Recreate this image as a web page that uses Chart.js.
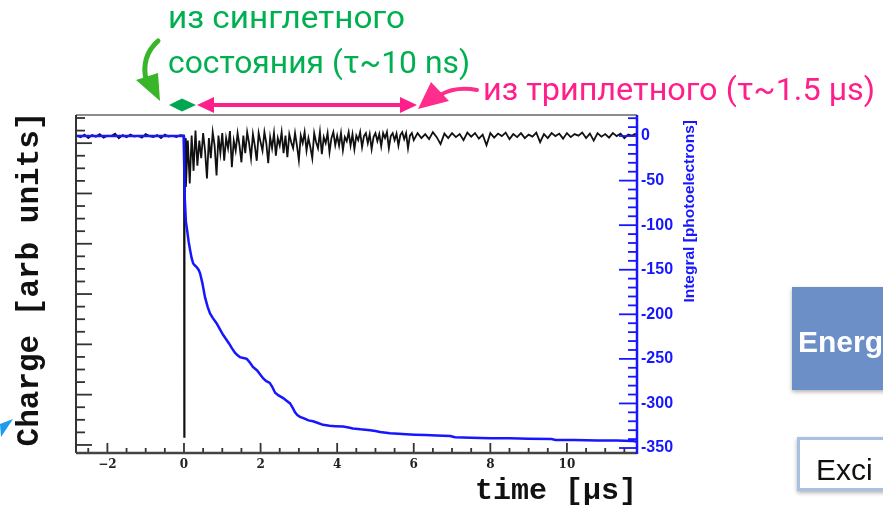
<!DOCTYPE html>
<html>
<head>
<meta charset="utf-8">
<script src="https://cdn.jsdelivr.net/npm/chart.js@4.4.1/dist/chart.umd.min.js"></script>
<style>
  html, body { margin: 0; padding: 0; background: #fff; overflow: hidden; }
  canvas { display: block; }
</style>
</head>
<body>
<canvas id="pulseChart" width="883" height="509"></canvas>
<script>
// integral of the pulse, photoelectrons (right axis)
const integralTime = [-2.82, -0.01, 0, 0.02, 0.05, 0.08, 0.12, 0.16, 0.2, 0.24, 0.28, 0.33, 0.38, 0.42, 0.48, 0.55,
  0.62, 0.68, 0.75, 0.85, 0.93, 1.02, 1.1, 1.18, 1.25, 1.33, 1.4, 1.46, 1.55, 1.64, 1.72, 1.8, 1.91, 2.0, 2.07, 2.15,
  2.24, 2.3, 2.38, 2.47, 2.59, 2.68, 2.77, 2.84, 2.9, 2.96, 3.03, 3.15, 3.25, 3.37, 3.5, 3.63, 3.8, 3.95, 4.15, 4.3,
  4.41, 4.61, 4.86, 5.0, 5.12, 5.38, 5.6, 5.8, 6.03, 6.3, 6.6, 6.95, 7.08, 7.5, 8.0, 8.5, 9.0, 9.6, 9.7, 10.2, 10.8,
  11.3, 11.7, 11.83];
const integralValue = [0, 0, -20, -70, -96, -105, -118, -128, -137, -143, -145, -147, -150, -154, -165, -181,
  -192, -199, -204, -210, -216, -223, -228, -233, -238, -243, -246, -248, -249, -250, -254, -259, -263, -268, -272, -275,
  -277, -281, -288, -291, -294, -297, -300, -305, -310, -313, -315, -317, -319, -320, -322, -324, -325, -325.5, -326, -327,
  -328, -329, -330, -331, -332, -333.5, -334, -334.5, -335, -335.5, -336, -336.5, -338, -338.5, -339, -339, -339.5, -340, -341, -341, -341.5,
  -341.5, -342, -343];

// raw charge waveform, arb units (left axis)
const chargeTime = [-2.82, -2.8, -2.7, -2.6, -2.5, -2.4, -2.3, -2.2, -2.1, -2.0, -1.9, -1.8, -1.7, -1.6, -1.5, -1.4,
  -1.3, -1.2, -1.1, -1.0, -0.9, -0.8, -0.7, -0.6, -0.5, -0.4, -0.3, -0.2, -0.1,
  0, 0.005, 0.015, 0.03,
  0.05, 0.1, 0.15, 0.2, 0.25, 0.3, 0.35, 0.4, 0.45, 0.5, 0.55, 0.6, 0.65, 0.7, 0.75, 0.8, 0.85, 0.9, 0.95, 1.0,
  1.05, 1.1, 1.15, 1.2, 1.25, 1.3, 1.35, 1.4, 1.45, 1.5, 1.55, 1.6, 1.65, 1.7, 1.75, 1.8, 1.85, 1.9, 1.95, 2.0,
  2.05, 2.1, 2.15, 2.2, 2.25, 2.3, 2.35, 2.4, 2.45, 2.5, 2.55, 2.6, 2.65, 2.7, 2.75, 2.8, 2.85, 2.9, 2.95, 3.0,
  3.05, 3.1, 3.15, 3.2, 3.25, 3.3, 3.35, 3.4, 3.45, 3.5, 3.55, 3.6, 3.65, 3.7, 3.75, 3.8, 3.85, 3.9, 3.95, 4.0,
  4.05, 4.1, 4.15, 4.2, 4.25, 4.3, 4.35, 4.4, 4.45, 4.5, 4.55, 4.6, 4.65, 4.7, 4.75, 4.8, 4.85, 4.9, 4.95, 5.0,
  5.05, 5.1, 5.15, 5.2, 5.25, 5.3, 5.35, 5.4, 5.45, 5.5, 5.55, 5.6, 5.65, 5.7, 5.75, 5.8, 5.85, 5.9, 5.95, 6.0,
  6.1, 6.2, 6.3, 6.4, 6.5, 6.6, 6.7, 6.8, 6.9, 7.0, 7.1, 7.2, 7.3, 7.4, 7.5, 7.6, 7.7, 7.8, 7.9, 8.0,
  8.1, 8.2, 8.3, 8.4, 8.5, 8.6, 8.7, 8.8, 8.9, 9.0, 9.1, 9.2, 9.3, 9.4, 9.5, 9.6, 9.7, 9.8, 9.9, 10.0,
  10.1, 10.2, 10.3, 10.4, 10.5, 10.6, 10.7, 10.8, 10.9, 11.0, 11.1, 11.2, 11.3, 11.4, 11.5, 11.6, 11.7, 11.8];
const chargeValue = [0.14, 0.15, 0.12, 0.17, 0.1, 0.16, 0.13, 0.18, 0.11, 0.15, 0.14, 0.19, 0.1, 0.16, 0.12, 0.17,
  0.13, 0.15, 0.11, 0.18, 0.14, 0.12, 0.16, 0.1, 0.17, 0.13, 0.15, 0.12, 0.16,
  0.15, -5.84, -1.4, 0.1,
  -0.87, 0.05, -0.8, 0.15, -0.55, 0.25, -0.45, 0.05, -0.3, 0.2, -0.15, -0.7, 0.1, -0.3, 0.22, -0.05, -0.64, 0.15, -0.2, 0.2,
  -0.35, 0.1, -0.1, 0.24, -0.48, 0.05, -0.15, 0.2, -0.05, -0.38, 0.15, -0.2, 0.22, 0.0, -0.3, 0.18, -0.05, -0.35, 0.2, 0.02,
  -0.15, 0.22, 0.0, -0.4, 0.12, -0.1, 0.2, -0.25, 0.1, -0.05, 0.22, -0.2, 0.15, -0.28, 0.18, 0.02, -0.1, 0.2, -0.05, -0.34,
  0.15, 0.0, 0.22, -0.15, 0.1, -0.08, -0.3, 0.2, 0.02, -0.1, 0.22, -0.22, 0.12, 0.0, 0.2, -0.18, 0.1, 0.22, -0.04, 0.15,
  -0.05, 0.2, -0.14, 0.12, 0.04, 0.22, -0.05, 0.18, -0.12, 0.15, 0.06, 0.22, -0.08, 0.14, 0.2, 0.0, 0.18, -0.12, 0.12, 0.2,
  0.04, 0.18, -0.06, 0.2, 0.1, 0.22, -0.1, 0.14, 0.2, 0.06, 0.19, -0.05, 0.16, 0.22, 0.08, 0.2, -0.1, 0.15, 0.2, 0.06,
  0.2, 0.1, 0.18, 0.08, 0.22, 0.12, -0.02, 0.19, 0.1, 0.2, 0.12, 0.18, 0.06, 0.21, 0.13, 0.2, 0.09, 0.17, -0.04, 0.2,
  0.11, 0.19, 0.14, 0.21, 0.08, 0.18, 0.12, 0.2, 0.1, 0.17, 0.13, 0.21, 0.02, 0.18, 0.1, 0.2, 0.14, 0.19, 0.09, 0.2,
  0.12, 0.18, 0.15, 0.21, 0.1, 0.19, 0.05, 0.2, 0.13, 0.18, 0.11, 0.2, 0.14, 0.19, 0.1, 0.17, 0.15, 0.19];

const xTicks = [-2, 0, 2, 4, 6, 8, 10];
const integralTicks = [0, -50, -100, -150, -200, -250, -300, -350];

const BLUE = '#1616ff';

function tickValues(min, max, step) {
  const out = [];
  for (let k = Math.ceil(min / step - 1e-9); k * step <= max + 1e-9; k++) out.push(k * step);
  return out;
}
function isMult(v, step) {
  return Math.abs(v / step - Math.round(v / step)) < 1e-6;
}
function line(ctx, x1, y1, x2, y2) {
  ctx.beginPath(); ctx.moveTo(x1, y1); ctx.lineTo(x2, y2); ctx.stroke();
}
function fitText(ctx, text, x, y, width, font, color) {
  ctx.save();
  ctx.font = font;
  ctx.fillStyle = color;
  ctx.textBaseline = 'alphabetic';
  ctx.textAlign = 'left';
  const w = ctx.measureText(text).width;
  ctx.translate(x, y);
  ctx.scale(width / w, 1);
  ctx.fillText(text, 0, 0);
  ctx.restore();
}
function poly(ctx, pts, color) {
  ctx.fillStyle = color;
  ctx.beginPath();
  ctx.moveTo(pts[0][0], pts[0][1]);
  pts.slice(1).forEach(p => ctx.lineTo(p[0], p[1]));
  ctx.closePath();
  ctx.fill();
}

const decor = {
  id: 'decor',
  afterDatasetsDraw(chart) {
    const { ctx, chartArea: a, scales } = chart;
    ctx.save();
    // ROOT style inner ticks
    ctx.lineWidth = 1.8;
    ctx.strokeStyle = '#333';
    tickValues(scales.x.min, scales.x.max, 0.5).forEach(v => {
      const px = scales.x.getPixelForValue(v);
      line(ctx, px, a.bottom, px, a.bottom - (isMult(v, 2) ? 10 : 5));
    });
    tickValues(scales.y.min, scales.y.max, 0.25).forEach(v => {
      const py = scales.y.getPixelForValue(v);
      line(ctx, a.left, py, a.left + (isMult(v, 1) ? 16 : 9), py);
    });
    ctx.strokeStyle = BLUE;
    tickValues(scales.y2.min, scales.y2.max, 10).forEach(v => {
      const py = scales.y2.getPixelForValue(v);
      line(ctx, a.right, py, a.right - (isMult(v, 50) ? 18 : 9), py);
    });
    // frame
    ctx.strokeStyle = '#666'; ctx.lineWidth = 1.5;
    line(ctx, a.left, a.top, a.right, a.top);
    ctx.strokeStyle = '#333'; ctx.lineWidth = 2;
    line(ctx, a.left, a.top, a.left, a.bottom);
    ctx.strokeStyle = '#444'; ctx.lineWidth = 2.5;
    line(ctx, a.left, a.bottom, a.right, a.bottom);
    ctx.strokeStyle = BLUE; ctx.lineWidth = 2.5;
    line(ctx, a.right, a.top, a.right, a.bottom + 1);
    ctx.restore();
  },
  afterDraw(chart) {
    const { ctx, chartArea: a } = chart;
    // axis titles on the two sides
    ctx.save();
    ctx.translate(30, 279);
    ctx.rotate(-Math.PI / 2);
    ctx.font = 'bold 31px "Liberation Mono", monospace';
    ctx.fillStyle = '#111';
    ctx.textAlign = 'center';
    ctx.textBaseline = 'middle';
    ctx.fillText('Charge [arb units]', 0, 0);
    ctx.restore();

    ctx.save();
    ctx.translate(a.right + 53, a.top + 5);
    ctx.rotate(-Math.PI / 2);
    ctx.font = 'bold 15.5px "Liberation Sans", Arial, sans-serif';
    ctx.fillStyle = BLUE;
    ctx.textAlign = 'right';
    ctx.textBaseline = 'middle';
    ctx.fillText('Integral [photoelectrons]', 0, 0);
    ctx.restore();

    ctx.save();
    const txt = '32px Roboto, "Noto Sans", sans-serif';
    fitText(ctx, 'из синглетного', 168, 28, 237, txt, '#00b050');
    fitText(ctx, 'состояния (τ~10 ns)', 168, 73, 302, txt, '#00b050');
    fitText(ctx, 'из триплетного (τ~1.5 µs)', 483, 100, 392, txt, '#ff1f8a');

    // singlet: short double arrow
    poly(ctx, [[169, 105], [182, 98.5], [196, 105], [182, 111.5]], '#00a651');
    // triplet: long double arrow
    ctx.strokeStyle = '#ff1f8a'; ctx.lineWidth = 4;
    line(ctx, 208, 105, 406, 105);
    poly(ctx, [[197, 105], [214, 97], [214, 113]], '#ff1f8a');
    poly(ctx, [[417, 105], [400, 97], [400, 113]], '#ff1f8a');

    // curved pointer arrows
    ctx.lineCap = 'round';
    ctx.strokeStyle = '#ff2d8c'; ctx.lineWidth = 4;
    ctx.beginPath(); ctx.moveTo(477, 90); ctx.quadraticCurveTo(456, 86, 440, 95); ctx.stroke();
    poly(ctx, [[418, 109], [431, 82], [449, 101]], '#ff2d8c');
    ctx.strokeStyle = '#39b52a'; ctx.lineWidth = 5;
    ctx.beginPath(); ctx.moveTo(158, 41); ctx.quadraticCurveTo(141, 56, 146, 80); ctx.stroke();
    poly(ctx, [[160, 101], [136, 80], [158, 73]], '#39b52a');

    // left-over pieces of the slide
    poly(ctx, [[0, 424], [13, 419], [1, 437]], '#1e9bef');
    ctx.shadowColor = 'rgba(0,0,0,0.3)'; ctx.shadowBlur = 4; ctx.shadowOffsetY = 2;
    ctx.fillStyle = '#6b8fc6';
    ctx.fillRect(792, 287, 100, 103);
    ctx.fillStyle = '#a9c1e0';
    ctx.fillRect(797, 437, 100, 54);
    ctx.shadowColor = 'transparent';
    ctx.fillStyle = '#fff';
    ctx.fillRect(800, 440, 100, 48);
    ctx.font = 'bold 30px "Liberation Sans", Arial, sans-serif';
    ctx.fillStyle = '#fff';
    ctx.textAlign = 'left'; ctx.textBaseline = 'alphabetic';
    ctx.fillText('Energ', 798, 352);
    ctx.font = '30px "Liberation Sans", Arial, sans-serif';
    ctx.fillStyle = '#111';
    ctx.fillText('Exci', 816, 480);
    ctx.restore();
  }
};

const toPoints = (xs, ys) => xs.map((x, i) => ({ x, y: ys[i] }));

new Chart(document.getElementById('pulseChart').getContext('2d'), {
  type: 'line',
  data: {
    datasets: [
      {
        label: 'Integral',
        data: toPoints(integralTime, integralValue),
        yAxisID: 'y2',
        borderColor: BLUE,
        borderWidth: 2.5,
        pointRadius: 0,
        tension: 0
      },
      {
        label: 'Charge',
        data: toPoints(chargeTime, chargeValue),
        yAxisID: 'y',
        borderColor: '#111',
        borderWidth: 1.8,
        pointRadius: 0,
        tension: 0
      }
    ]
  },
  options: {
    responsive: false,
    animation: false,
    devicePixelRatio: 1,
    layout: { padding: { top: 115, left: 0, right: 0, bottom: 0 } },
    plugins: {
      legend: { display: false },
      tooltip: { enabled: false }
    },
    scales: {
      x: {
        type: 'linear',
        min: -2.82,
        max: 11.83,
        grid: { display: false, drawTicks: false },
        border: { display: false },
        afterBuildTicks: scale => { scale.ticks = xTicks.map(v => ({ value: v })); },
        afterFit: scale => { scale.height = 56; },
        ticks: {
          padding: 5,
          color: '#222',
          font: { family: '"DejaVu Serif", serif', size: 12, weight: 'bold' },
          callback: v => (v < 0 ? '\u2212' + Math.abs(v) : String(v))
        },
        title: {
          display: true,
          text: 'time [µs]',
          align: 'end',
          color: '#111',
          padding: { top: 0, bottom: 0 },
          font: { family: '"Liberation Mono", monospace', size: 30, weight: 'bold' }
        }
      },
      y: {
        position: 'left',
        min: -6.16,
        max: 0.56,
        grid: { display: false, drawTicks: false },
        border: { display: false },
        ticks: { display: false },
        afterFit: scale => { scale.width = 76; }
      },
      y2: {
        position: 'right',
        min: -355.6,
        max: 23.6,
        grid: { display: false, drawTicks: false },
        border: { display: false },
        afterBuildTicks: scale => { scale.ticks = integralTicks.map(v => ({ value: v })); },
        afterFit: scale => { scale.width = 246; },
        ticks: {
          padding: 4,
          color: BLUE,
          font: { family: '"Liberation Sans", Arial, sans-serif', size: 16, weight: 'bold' }
        }
      }
    }
  },
  plugins: [decor]
});
</script>
</body>
</html>
